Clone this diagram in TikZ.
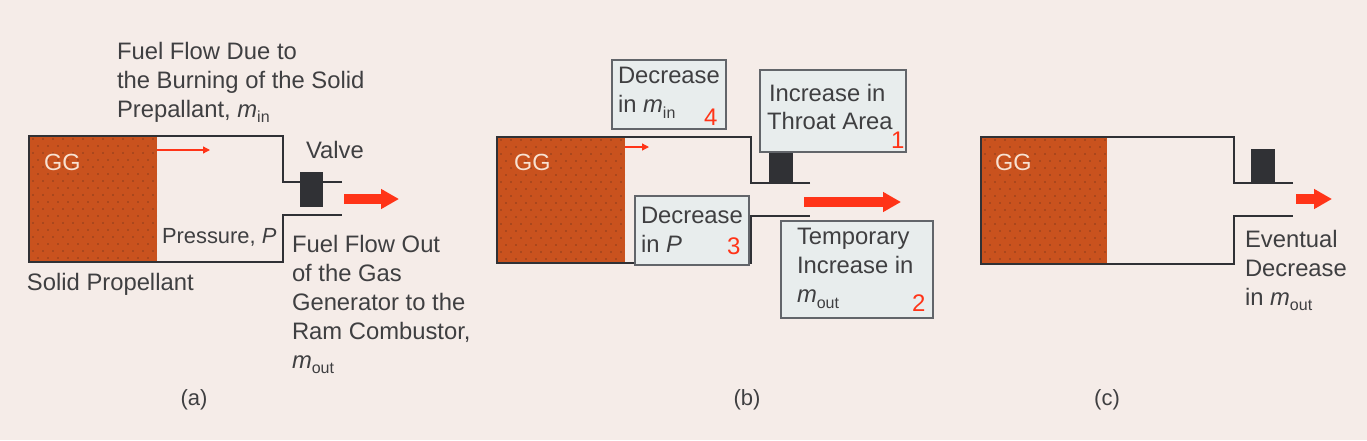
\documentclass[tikz,border=0pt]{standalone}
\usepackage{fontspec}
\setmainfont{Liberation Sans}
\usetikzlibrary{arrows.meta}
\definecolor{paper}{HTML}{F5ECE8}
\definecolor{ink}{HTML}{3F3F41}
\definecolor{wall}{HTML}{303135}
\definecolor{grain}{HTML}{C9521E}
\definecolor{speck}{HTML}{8C3D1C}
\definecolor{flow}{HTML}{FF3418}
\definecolor{tag}{HTML}{E8EDED}
\definecolor{tagline}{HTML}{62656A}
\definecolor{gglabel}{HTML}{F8E2D2}
\newcommand\mflow[1]{\textit{m}\raisebox{-0.24em}{\fontsize{16}{16}\selectfont #1}}
\tikzset{
  x=1pt, y=-1pt,
  txt/.style={anchor=north west, inner sep=0pt, outer sep=0pt, align=left, text=ink,
    font=\fontsize{23.8}{29}\selectfont},
  small/.style={txt, font=\fontsize{21.9}{26}\selectfont},
  panelcap/.style={anchor=base, inner sep=0pt, text=ink, font=\fontsize{22}{26}\selectfont},
  gg/.style={anchor=base west, inner sep=0pt, text=gglabel, font=\fontsize{23.4}{28}\selectfont},
  num/.style={anchor=base west, inner sep=0pt, text=flow, font=\fontsize{24}{28}\selectfont},
  tagbox/.style={draw=tagline, line width=1.5pt, fill=tag, anchor=north west, inner sep=0pt},
  shell/.style={draw=wall, line width=2.5pt, line join=miter},
  valve/.style={fill=wall, draw=none, inner sep=0pt, anchor=north west},
  thin flow/.style={draw=flow, line width=1.3pt, -{Triangle[length=7pt,width=7pt]}},
  fat flow/.style={draw=flow, line width=10pt, -{Triangle[length=18pt,width=19pt]}}
}
% Gas generator: charge with stippling, then the casing with its nozzle lips.
% #1 left, #2 charge face, #3 end wall, #4 nozzle end, #5 top, #6 bottom, #7 upper lip, #8 lower lip
\newcommand\generator[8]{%
  \begin{scope}
    \clip (#1,#5) rectangle (#2,#6);
    \fill[grain] (#1,#5) rectangle (#2,#6);
    \foreach \r in {0,...,18}{
      \foreach \c in {0,...,13}{
        \fill[speck] ({#1+4+\c*10+5*mod(\r,2)},{#5+3+\r*7}) circle (0.9pt);
      }
    }
  \end{scope}
  \draw[shell] (#4,#7) -- (#3,#7) -- (#3,#5) -- (#1,#5) -- (#1,#6) -- (#3,#6) -- (#3,#8) -- (#4,#8);
}
\begin{document}
\begin{tikzpicture}
\useasboundingbox[fill=paper] (0,0) rectangle (1367,440);

% Panel (a)
\generator{29}{157}{283}{342}{136}{262}{182}{215}
\node[valve, minimum width=23pt, minimum height=35pt] (va) at (300,172) {};
\coordinate (a1) at (157,150); \coordinate (a2) at (210,150);
\draw[thin flow] (a1) -- (a2);
\coordinate (a3) at (344,199); \coordinate (a4) at (399,199);
\draw[fat flow] (a3) -- (a4);
\node[gg] (gga) at (44,170.5) {GG};
\node[txt] (fuelin) at (117,42) {Fuel Flow Due to\\the Burning of the Solid\\Prepallant, \mflow{in}};
\node[txt] (valvelabel) at (306,141) {Valve};
\node[small] (press) at (162,228) {Pressure, \textit{P}};
\node[txt] (fuelout) at (292,235) {Fuel Flow Out\\of the Gas\\Generator to the\\Ram Combustor,\\\mflow{out}};
\node[txt] (solid) at (27,273) {Solid Propellant};
\node[panelcap] (capa) at (194,405) {(a)};

% Panel (b)
\generator{497}{625}{751}{810}{137}{263}{183}{216}
\node[valve, minimum width=24pt, minimum height=35pt] (vb) at (769,148) {};
\coordinate (b1) at (625,147); \coordinate (b2) at (649,147);
\draw[thin flow] (b1) -- (b2);
\coordinate (b3) at (804,202); \coordinate (b4) at (901,202);
\draw[fat flow] (b3) -- (b4);
\node[gg] (ggb) at (514,170.5) {GG};
\node[tagbox, minimum width=114pt, minimum height=69pt] (t4) at (611,59) {};
\node[txt] (t4a) at (618,67.5) {Decrease\\in \mflow{in}};
\node[num] (n4) at (704,125) {4};
\node[tagbox, minimum width=146pt, minimum height=82pt] (t1) at (759,69) {};
\node[txt] (t1a) at (769,84) {Increase in};
\node[txt] (t1b) at (767,112) {Throat Area};
\node[num] (n1) at (891,148) {1};
\node[tagbox, minimum width=114pt, minimum height=69pt] (t3) at (634,195) {};
\node[txt] (t3a) at (641,207) {Decrease\\in \textit{P}};
\node[num] (n3) at (727,254) {3};
\node[tagbox, minimum width=152pt, minimum height=97pt] (t2) at (780,220) {};
\node[txt] (t2a) at (797,228.5) {Temporary\\Increase in\\\mflow{out}};
\node[num] (n2) at (912,311) {2};
\node[panelcap] (capb) at (747,405) {(b)};

% Panel (c)
\generator{981}{1107}{1234}{1293}{137}{264}{183}{216}
\node[valve, minimum width=24pt, minimum height=34pt] (vc) at (1251,149) {};
\coordinate (c1) at (1296,199); \coordinate (c2) at (1332,199);
\draw[fat flow] (c1) -- (c2);
\node[gg] (ggc) at (995,170.5) {GG};
\node[txt] (event) at (1245,230) {Eventual\\Decrease\\in \mflow{out}};
\node[panelcap] (capc) at (1107,405) {(c)};
\end{tikzpicture}
\end{document}
